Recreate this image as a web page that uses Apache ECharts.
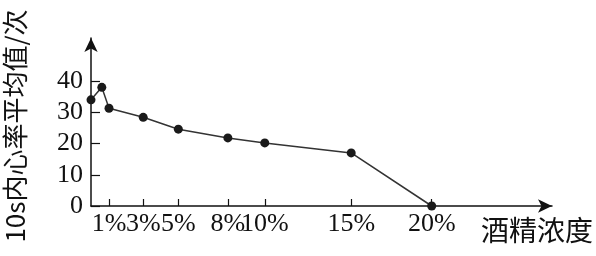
<!DOCTYPE html>
<html><head><meta charset="utf-8">
<script src="https://cdn.jsdelivr.net/npm/echarts@6/dist/echarts.min.js"></script>
<style>html,body{margin:0;padding:0;background:#fff}#c{width:596px;height:256px}</style>
</head><body><div id="c"></div>
<script>
// plotted horizontal position of each measurement (schematic axis units)
const xPos = [0, 0.6, 1, 2.9, 4.85, 7.6, 9.65, 14.45, 18.92];
// 10s average heart rate (beats)
const heartRate = [34, 38, 31.3, 28.4, 24.6, 21.8, 20.2, 17, 0];
// x tick positions and their labels
const xTickPos = [1, 2.9, 4.85, 7.6, 9.65, 14.45, 18.92];
const xTickLabels = ['1%', '3%', '5%', '8%', '10%', '15%', '20%'];
const yTicks = [0, 10, 20, 30, 40];
const yTitle = '10s内心率平均值/次';
const xTitle = '酒精浓度';

const chart = echarts.init(document.getElementById('c'));
const serif = 'Liberation Serif';
const evenPos = xTickPos.filter((_, i) => i % 2 === 0);
const oddPos = xTickPos.filter((_, i) => i % 2 === 1);
const fmt = v => { const i = xTickPos.indexOf(v); return i >= 0 ? xTickLabels[i] : ''; };
const baseX = (vals, show) => ({
  type: 'value', min: 0, max: 25.6, gridIndex: 0, position: 'bottom',
  splitLine: {show: false},
  axisLine: {show: show, symbol: ['none', 'arrow'], symbolSize: [10, 14], lineStyle: {color: '#111', width: 1.5}},
  axisTick: {show: show, inside: true, length: 7, customValues: xTickPos, lineStyle: {color: '#111', width: 1.2}},
  axisLabel: {customValues: vals, margin: 5, hideOverlap: false, color: '#111', fontFamily: serif, fontSize: 26, formatter: fmt}
});
chart.setOption({
  animation: false,
  grid: {left: 91, top: 38, right: 44, bottom: 50},
  xAxis: [baseX(evenPos, true), baseX(oddPos, false)],
  yAxis: {
    type: 'value', min: 0, max: 53.8,
    splitLine: {show: false},
    axisLine: {show: true, symbol: ['none', 'arrow'], symbolSize: [10, 14], lineStyle: {color: '#111', width: 1.5}},
    axisTick: {show: true, inside: true, length: 9, customValues: yTicks, lineStyle: {color: '#111', width: 1.2}},
    axisLabel: {customValues: yTicks, margin: 8, hideOverlap: false, showMinLabel: true, color: '#111', fontFamily: serif, fontSize: 26}
  },
  graphic: [
    {type: 'text', x: 15, y: 126, rotation: Math.PI / 2,
     style: {text: yTitle, font: '26px "Noto Sans CJK SC"', fill: '#111', textAlign: 'center', textVerticalAlign: 'middle'}},
    {type: 'text', x: 537, y: 230,
     style: {text: xTitle, font: '28px "Noto Sans CJK SC"', fill: '#111', textAlign: 'center', textVerticalAlign: 'middle'}}
  ],
  series: [{
    type: 'line',
    xAxisIndex: 0,
    data: xPos.map((x, i) => [x, heartRate[i]]),
    symbol: 'circle', symbolSize: 9,
    itemStyle: {color: '#1a1a1a'},
    lineStyle: {color: '#333', width: 1.5}
  }]
});
</script></body></html>
